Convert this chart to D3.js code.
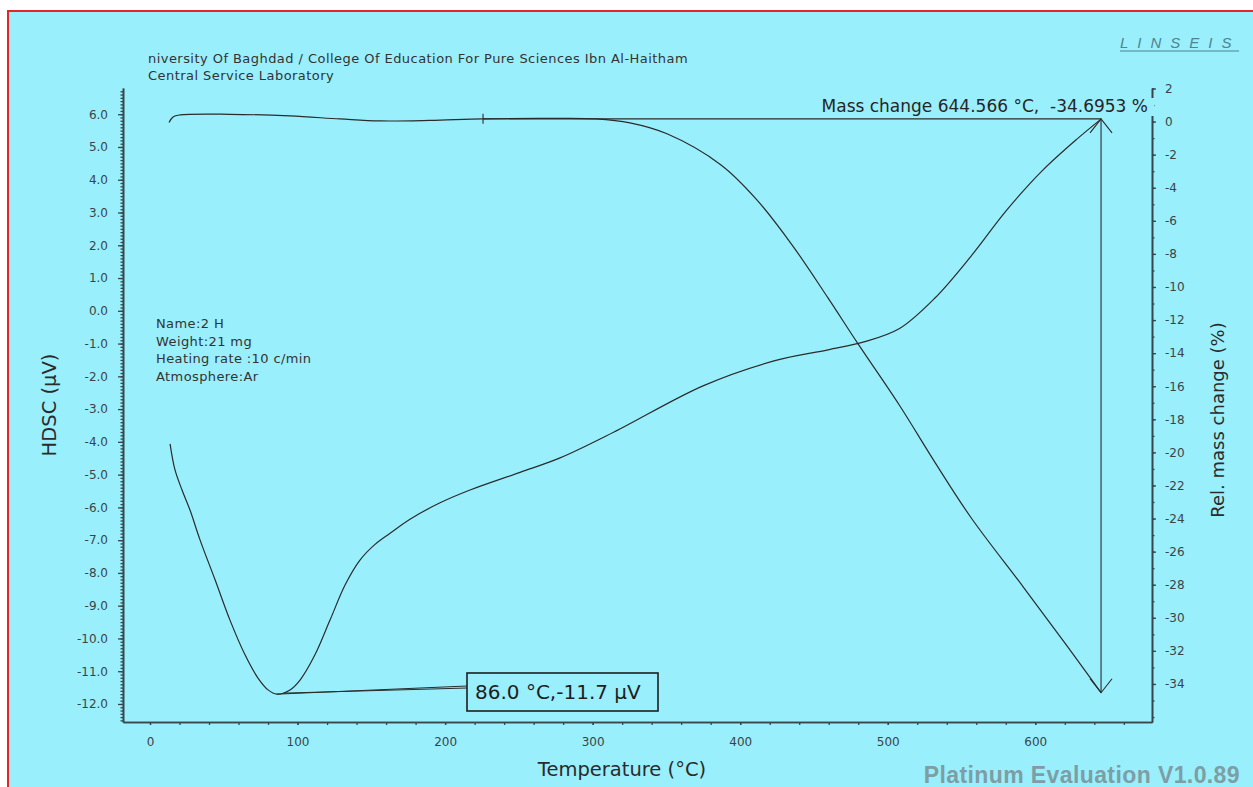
<!DOCTYPE html>
<html>
<head>
<meta charset="utf-8">
<script src="https://cdn.jsdelivr.net/npm/d3@7"></script>
<style>
  html, body { margin: 0; padding: 0; background: #fff; }
  svg { display: block; font-family: "DejaVu Sans", Verdana, sans-serif; }
</style>
</head>
<body>
<div id="chart"></div>
<script>
// DSC curve (left axis, µV) vs temperature
const dscT = [13.6, 16.9, 21.7, 27.1, 33.9, 44.1, 54.2, 64.4, 73.2, 80.0, 86.0, 94.9, 101.7, 111.8, 122.0, 132.2, 142.3, 152.5, 162.7, 176.2, 196.6, 216.9, 250.8, 277.9, 314.5, 374.8, 422.9, 459.5, 483.9, 507.7, 532.0, 556.5, 580.2, 604.6, 629.0, 644.566];
const dscV = [-4.06, -4.85, -5.47, -6.08, -6.99, -8.21, -9.44, -10.5, -11.21, -11.57, -11.7, -11.57, -11.27, -10.5, -9.44, -8.37, -7.61, -7.13, -6.79, -6.36, -5.86, -5.47, -4.93, -4.49, -3.7, -2.29, -1.53, -1.19, -0.95, -0.55, 0.39, 1.67, 3.05, 4.27, 5.27, 5.85];

// TG curve (right axis, rel. mass change %) vs temperature
const tgT = [12.9, 15.6, 20.3, 54.2, 94.9, 128.8, 155.9, 189.8, 225.7, 271.1, 302.3, 325.3, 350.4, 387.0, 410.7, 435.1, 459.5, 479.9, 507.7, 532.0, 556.5, 592.4, 621.5, 644.566];
const tgM = [-0.05, 0.28, 0.40, 0.44, 0.34, 0.16, 0.04, 0.07, 0.165, 0.19, 0.16, -0.08, -0.74, -2.62, -4.67, -7.45, -10.66, -13.44, -17.12, -20.6, -23.95, -28.2, -31.7, -34.53];

// ticks
const xTicks = [0, 100, 200, 300, 400, 500, 600];
const leftTicks = d3.range(-12, 7);
const rightTicks = d3.range(-34, 3, 2);

// annotations
const peak = {t: 86.0, v: -11.7, label: "86.0 °C,-11.7 µV"};
const massStart = {t: 225.7, m: 0.165};
const massEnd = {t: 644.566, m: -34.53, label: "Mass change 644.566 °C,  -34.6953 %"};

const headerLines = ["niversity Of Baghdad / College Of Education For Pure Sciences Ibn Al-Haitham", "Central Service Laboratory"];
const infoLines = ["Name:2 H", "Weight:21 mg", "Heating rate :10 c/min", "Atmosphere:Ar"];

const W = 1253, H = 787;
const plot = {left: 123, right: 1152, top: 88, bottom: 722};
const ink = "#2b2b2b", axisInk = "#37474b", bg = "#9aeffc";

const svg = d3.select("#chart").append("svg")
    .attr("width", W).attr("height", H);

// background panel with red frame
svg.append("rect").attr("x", 8).attr("y", 11).attr("width", W).attr("height", H)
    .attr("fill", bg).attr("stroke", "#e3262a").attr("stroke-width", 2);

// scales
const x = d3.scaleLinear().domain([-18.3, 679.1]).range([plot.left, plot.right]);
const yL = d3.scaleLinear().domain([-12.55, 6.8]).range([plot.bottom, plot.top]);
const yR = d3.scaleLinear().domain([-36.3, 2.03]).range([plot.bottom, plot.top]);

function styleAxis(g) {
    g.selectAll("path.domain").attr("stroke", axisInk).attr("stroke-width", 1.6);
    g.selectAll(".tick line").attr("stroke", axisInk).attr("stroke-width", 1.3);
    g.selectAll(".tick text").attr("fill", "#3a4447")
        .style("font-family", "'DejaVu Sans', Verdana, sans-serif").style("font-size", "12px");
}

// left axis: minor every 0.1, major every 1
svg.append("g").attr("transform", `translate(${plot.left},0)`)
    .call(d3.axisLeft(yL).tickValues(d3.range(-125, 68).map(d => d / 10)).tickSize(2.5).tickSizeOuter(0).tickFormat(""))
    .call(styleAxis);
svg.append("g").attr("transform", `translate(${plot.left},0)`)
    .call(d3.axisLeft(yL).tickValues(leftTicks).tickSize(5).tickSizeOuter(0).tickPadding(10).tickFormat(d => d.toFixed(1)))
    .call(styleAxis);

// right axis: minor every 1, major every 2
svg.append("g").attr("transform", `translate(${plot.right},0)`)
    .call(d3.axisRight(yR).tickValues(d3.range(-36, 3)).tickSize(2.5).tickSizeOuter(0).tickFormat(""))
    .call(styleAxis);
svg.append("g").attr("transform", `translate(${plot.right},0)`)
    .call(d3.axisRight(yR).tickValues(rightTicks).tickSize(4).tickSizeOuter(0).tickPadding(9).tickFormat(d => String(d)))
    .call(styleAxis);

// bottom axis: minor every 20
svg.append("g").attr("transform", `translate(0,${plot.bottom})`)
    .call(d3.axisBottom(x).tickValues(d3.range(0, 680, 20)).tickSize(3).tickSizeOuter(0).tickFormat(""))
    .call(styleAxis);
svg.append("g").attr("transform", `translate(0,${plot.bottom})`)
    .call(d3.axisBottom(x).tickValues(xTicks).tickSize(3).tickSizeOuter(0).tickPadding(12).tickFormat(d => String(d)))
    .call(styleAxis);

// axis titles
svg.append("text").attr("transform", `translate(56,${(plot.top + plot.bottom) / 2}) rotate(-90)`)
    .attr("text-anchor", "middle").attr("font-size", 19.5).attr("fill", ink).text("HDSC (µV)");
svg.append("text").attr("transform", `translate(1224,${(plot.top + plot.bottom) / 2 + 15}) rotate(-90)`)
    .attr("text-anchor", "middle").attr("font-size", 18).attr("fill", ink).text("Rel. mass change (%)");
svg.append("text").attr("x", 622).attr("y", 776)
    .attr("text-anchor", "middle").attr("font-size", 19.5).attr("fill", ink).text("Temperature (°C)");

// curves
const dscData = dscT.map((t, i) => ({t, v: dscV[i]}));
const tgData = tgT.map((t, i) => ({t, m: tgM[i]}));

svg.append("path").datum(dscData)
    .attr("fill", "none").attr("stroke", ink).attr("stroke-width", 1.2)
    .attr("d", d3.line().x(d => x(d.t)).y(d => yL(d.v)).curve(d3.curveCatmullRom.alpha(0.5)));
svg.append("path").datum(tgData)
    .attr("fill", "none").attr("stroke", ink).attr("stroke-width", 1.2)
    .attr("d", d3.line().x(d => x(d.t)).y(d => yR(d.m)).curve(d3.curveCatmullRom.alpha(0.5)));

// peak annotation
const px = x(peak.t), py = yL(peak.v);
const box = {x: 467, y: 673, w: 191, h: 38};
svg.append("line").attr("x1", px).attr("y1", py).attr("x2", box.x).attr("y2", box.y + 13)
    .attr("stroke", ink).attr("stroke-width", 1);
svg.append("line").attr("x1", px + 6).attr("y1", py - 1).attr("x2", box.x).attr("y2", box.y + 15)
    .attr("stroke", ink).attr("stroke-width", 1);
svg.append("rect").attr("x", box.x).attr("y", box.y).attr("width", box.w).attr("height", box.h)
    .attr("fill", bg).attr("stroke", "#1e1e1e").attr("stroke-width", 1.6);
svg.append("text").attr("x", box.x + 8).attr("y", box.y + 26)
    .attr("font-size", 20).attr("fill", "#1e1e1e").text(peak.label);

// mass change annotation
const sx = x(massStart.t), sy = yR(massStart.m);
const ex = x(massEnd.t), ey = yR(massEnd.m);
svg.append("line").attr("x1", sx).attr("y1", sy).attr("x2", ex).attr("y2", sy)
    .attr("stroke", ink).attr("stroke-width", 1.1);
svg.append("line").attr("x1", sx).attr("y1", sy - 5).attr("x2", sx).attr("y2", sy + 5)
    .attr("stroke", ink).attr("stroke-width", 1.1);
svg.append("line").attr("x1", ex).attr("y1", sy).attr("x2", ex).attr("y2", ey)
    .attr("stroke", ink).attr("stroke-width", 1.1);
svg.append("path")
    .attr("d", `M${ex - 11},${sy + 14}L${ex},${sy}L${ex + 11},${sy + 14}M${ex - 11},${ey - 14}L${ex},${ey}L${ex + 11},${ey - 14}`)
    .attr("fill", "none").attr("stroke", ink).attr("stroke-width", 1.1);

const massText = svg.append("text").attr("x", 1148).attr("y", 112)
    .attr("text-anchor", "end").attr("font-size", 17).attr("fill", "#262626")
    .style("white-space", "pre").text(massEnd.label);
const mb = massText.node().getBBox();
svg.insert("rect", () => massText.node())
    .attr("x", mb.x - 2).attr("y", mb.y + 2).attr("width", mb.width + 8).attr("height", mb.height - 2)
    .attr("fill", bg);

// header
svg.selectAll("text.header").data(headerLines).join("text").attr("class", "header")
    .attr("x", 148).attr("y", (d, i) => 63 + i * 16.5)
    .attr("font-size", 13).attr("letter-spacing", 0.45).attr("fill", "#333").text(d => d);

// info block
svg.selectAll("text.info").data(infoLines).join("text").attr("class", "info")
    .attr("x", 156).attr("y", (d, i) => 328 + i * 17.5)
    .attr("font-size", 13).attr("letter-spacing", 0.4).attr("fill", "#333").text(d => d);

// logo
svg.append("text").attr("x", 1120).attr("y", 48)
    .attr("font-size", 15).attr("font-style", "italic").attr("letter-spacing", 9)
    .attr("fill", "#4f8490").style("font-family", "'Liberation Sans', Arial, sans-serif").text("LINSEIS");
svg.append("line").attr("x1", 1120).attr("y1", 51).attr("x2", 1239).attr("y2", 51)
    .attr("stroke", "#4f8490").attr("stroke-width", 1.2);

// footer
svg.append("text").attr("x", 1240).attr("y", 783).attr("text-anchor", "end")
    .attr("font-size", 23).attr("font-weight", "bold").attr("letter-spacing", 0.4).attr("fill", "#7d9ea4")
    .style("font-family", "'Liberation Sans', Arial, sans-serif").text("Platinum Evaluation V1.0.89");
</script>
</body>
</html>
